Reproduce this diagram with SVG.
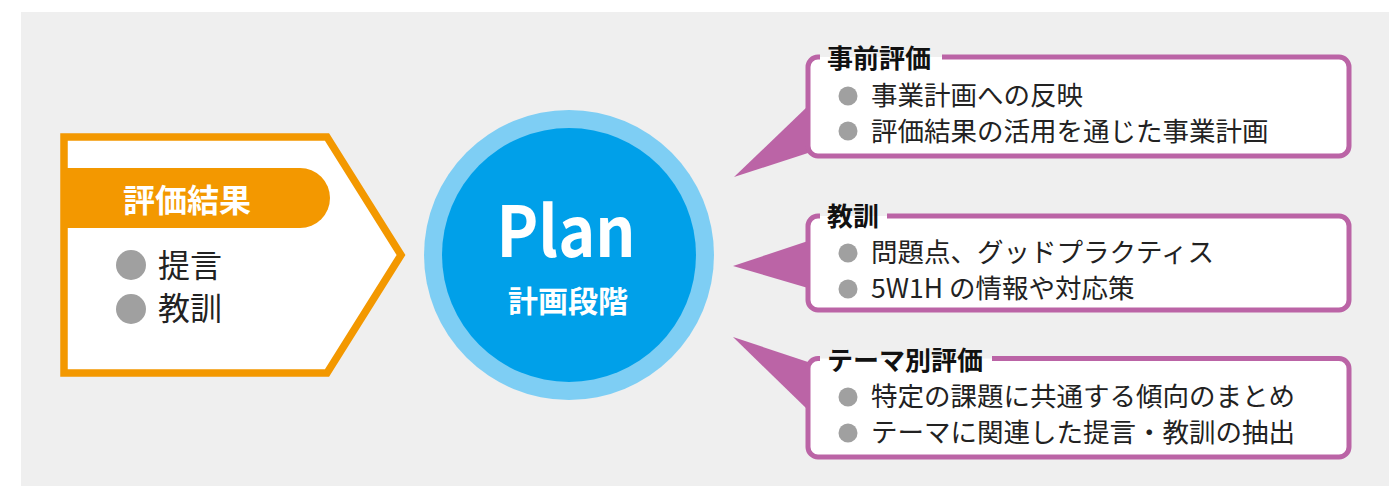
<svg xmlns="http://www.w3.org/2000/svg" width="1389" height="486" viewBox="0 0 1389 486">
<style>
.jp{font-family:"Noto Sans CJK JP","Noto Sans",sans-serif;}
.title{font-size:26px;font-weight:700;fill:#111;}
.item{font-size:26.5px;fill:#222;}
.box{fill:#fff;stroke:#bb64a6;stroke-width:5;}
.ptr{fill:#bb64a6;}
.dot{fill:#a0a0a0;}
</style>
<rect x="21" y="12" width="1368" height="474" fill="#efefef"/>
<g id="connectors">
<polygon class="ptr" points="734,177 808,106 808,153"/>
<polygon class="ptr" points="733,266 808,241 808,288"/>
<polygon class="ptr" points="733,337 808,362 808,410"/>
</g>
<g id="result">
<polygon points="64,137 327,137 401,255 327,373 64,373" fill="#fff" stroke="#f39800" stroke-width="7.5"/>
<path d="M64,168 H300 A30,30 0 0 1 300,228 H64 Z" fill="#f39800"/>
<text class="jp" x="187" y="212" font-size="32" font-weight="700" fill="#fff" text-anchor="middle">評価結果</text>
<circle class="dot" cx="131" cy="265" r="15"/>
<circle class="dot" cx="131" cy="309" r="15"/>
<text class="jp" x="158" y="277" font-size="32" fill="#222">提言</text>
<text class="jp" x="158" y="320" font-size="32" fill="#222">教訓</text>
</g>
<g id="plan">
<circle cx="569" cy="255" r="145" fill="#7ecef4"/>
<circle cx="569" cy="255" r="127" fill="#00a0e9"/>
<text class="jp" x="566" y="257" font-size="70" font-weight="700" fill="#fff" text-anchor="middle" textLength="139" lengthAdjust="spacingAndGlyphs">Plan</text>
<text class="jp" x="568" y="312" font-size="30" font-weight="700" fill="#fff" text-anchor="middle">計画段階</text>
</g>
<g id="box-jizen">
<path class="box" d="M942,57 H1339 A10,10 0 0 1 1349,67 V146 A10,10 0 0 1 1339,156 H818 A10,10 0 0 1 808,146 V67 A10,10 0 0 1 818,57 H820"/>
<text class="jp title" x="827" y="68">事前評価</text>
<circle class="dot" cx="848" cy="96" r="9.5"/>
<circle class="dot" cx="848" cy="131" r="9.5"/>
<text class="jp item" x="871" y="105">事業計画への反映</text>
<text class="jp item" x="871" y="141">評価結果の活用を通じた事業計画</text>
</g>
<g id="box-kyokun">
<path class="box" d="M887,216 H1339 A10,10 0 0 1 1349,226 V300 A10,10 0 0 1 1339,310 H818 A10,10 0 0 1 808,300 V226 A10,10 0 0 1 818,216 H820"/>
<text class="jp title" x="827" y="226">教訓</text>
<circle class="dot" cx="848" cy="253" r="9.5"/>
<circle class="dot" cx="848" cy="289" r="9.5"/>
<text class="jp item" x="871" y="262">問題点、グッドプラクティス</text>
<text class="jp item" x="871" y="298">5W1H の情報や対応策</text>
</g>
<g id="box-theme">
<path class="box" d="M992,358.5 H1339 A10,10 0 0 1 1349,368.5 V447 A10,10 0 0 1 1339,457 H818 A10,10 0 0 1 808,447 V368.5 A10,10 0 0 1 818,358.5 H820"/>
<text class="jp title" x="827" y="370">テーマ別評価</text>
<circle class="dot" cx="848" cy="397" r="9.5"/>
<circle class="dot" cx="848" cy="433" r="9.5"/>
<text class="jp item" x="871" y="406">特定の課題に共通する傾向のまとめ</text>
<text class="jp item" x="871" y="442">テーマに関連した提言・教訓の抽出</text>
</g>
</svg>
